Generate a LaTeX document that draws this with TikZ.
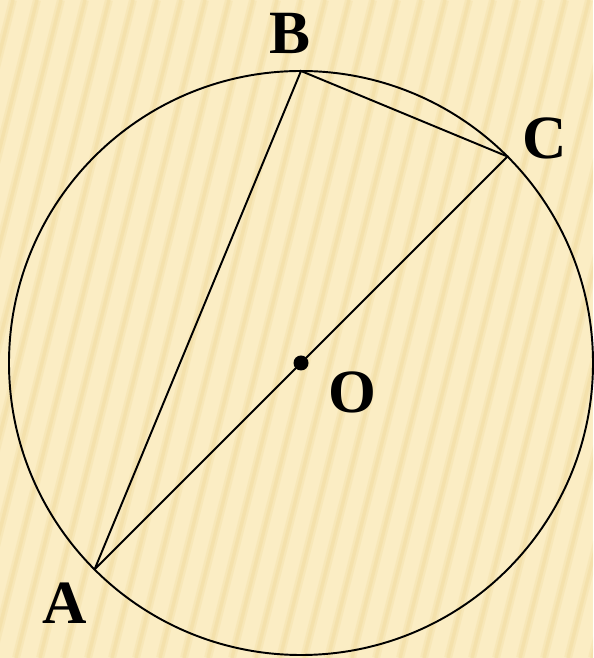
\documentclass[tikz,border=0pt]{standalone}
\usepackage{fontspec}
\setmainfont{Liberation Serif}
\usepackage{xcolor}
\definecolor{paper}{HTML}{FBEDC4}
\definecolor{stripe}{HTML}{F2DCA2}
\usepackage{tikz}
\usetikzlibrary{calc}

\begin{document}
\begin{tikzpicture}[x=0.02cm, y=0.02cm,
    lbl/.style={font=\fontsize{35}{40}\selectfont\bfseries, inner sep=0pt},
    seg/.style={line width=1.1pt}]
  \def\r{292}
  % background with soft diagonal stripes
  \fill[paper] (0,0) rectangle (593,658);
  \begin{scope}
    \clip (0,0) rectangle (593,658);
    \foreach \i in {-200,-176,...,620} {
      \draw[stripe, line width=0.16cm, opacity=0.35] (\i,0) -- (\i+165,658);
      \draw[stripe, line width=0.07cm, opacity=0.5] (\i,0) -- (\i+165,658);
    }
  \end{scope}
  \useasboundingbox (0,0) rectangle (593,658);
  % circle and points
  \coordinate (O) at (301,295);
  \coordinate (A) at ($(O)+(225:\r)$);
  \coordinate (B) at ($(O)+(90:\r)$);
  \coordinate (C) at ($(O)+(45:\r)$);
  \draw[seg] (O) circle[radius=\r];
  \draw[seg] (A) -- (B) -- (C) -- (A);
  \fill (O) circle[radius=7.5];
  \node[lbl] (lA) at (65,55) {A};
  \node[lbl] (lB) at (290,625) {B};
  \node[lbl] (lC) at (545,520) {C};
  \node[lbl] (lO) at (352,266) {O};
\end{tikzpicture}
\end{document}
